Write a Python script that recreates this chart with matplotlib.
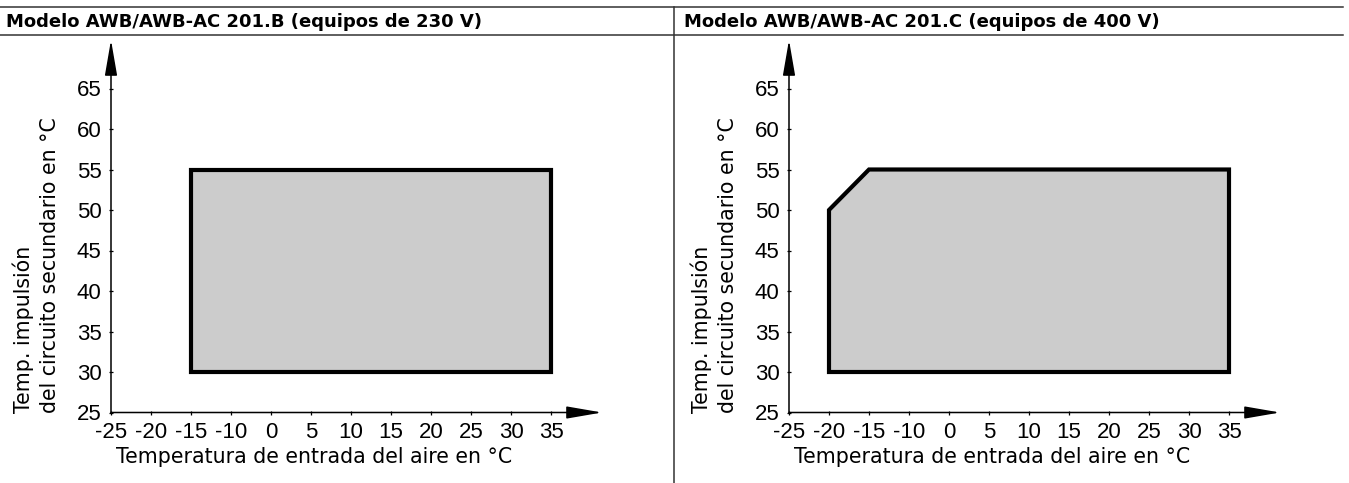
import numpy as np
import matplotlib.pyplot as plt
from matplotlib.patches import Polygon

# tick values as printed in the source chart (note: no -5 label)
x_tick_values = [-25, -20, -15, -10, 0, 5, 10, 15, 20, 25, 30, 35]
x_tick_labels = ['-25', '-20', '-15', '-10', '0', '5', '10', '15', '20', '25', '30', '35']
y_tick_values = [25, 30, 35, 40, 45, 50, 55, 60, 65]

# operating envelopes (air inlet temp, flow temp)
env_b_air = [-15, -15, 35, 35]
env_b_flow = [30, 55, 55, 30]
env_c_air = [-20, -20, -15, 35, 35]
env_c_flow = [30, 50, 55, 55, 30]

titles = ['Modelo AWB/AWB-AC 201.B (equipos de 230 V)',
          'Modelo AWB/AWB-AC 201.C (equipos de 400 V)']
xlabel = 'Temperatura de entrada del aire en °C'
ylabel = 'Temp. impulsión\ndel circuito secundario en °C'

W, H = 1349, 483
fig = plt.figure(figsize=(W / 100, H / 100), dpi=100)

LABEL_FONT = 'DejaVu Sans'
TICK_FONT = 'Liberation Sans'


def fx(px):
    return px / W


def fy(py):
    return 1 - py / H


# title bar
fig.add_artist(plt.Line2D([0, fx(1343)], [fy(7), fy(7)], color='#333333', lw=1.1))
fig.add_artist(plt.Line2D([0, fx(1343)], [fy(35), fy(35)], color='#333333', lw=1.1))
fig.add_artist(plt.Line2D([fx(674), fx(674)], [fy(7), 0], color='#333333', lw=1.1))

pos = np.arange(len(x_tick_values))


def to_pos(vals):
    return np.interp(vals, x_tick_values, pos)


def draw_panel(x0, title, air, flow):
    ox, oy = x0, 412.5
    tip_x, tip_y = x0 + 491, 40
    ax = fig.add_axes([fx(ox), fy(oy), (tip_x - ox) / W, (oy - tip_y) / H])
    ax.set_xlim(0, (tip_x - ox) / 40.0)
    ax.set_ylim(25, 25 + (oy - tip_y) / 40.5 * 5)
    for s in ax.spines.values():
        s.set_visible(False)
    ax.patch.set_alpha(0)

    ax.add_patch(Polygon(np.column_stack([to_pos(air), flow]), closed=True,
                         facecolor='#cccccc', edgecolor='black', lw=3.0,
                         joinstyle='miter'))

    arrow = dict(arrowstyle='-|>,head_length=2.2,head_width=0.38',
                 color='black', lw=1.1, shrinkA=0, shrinkB=0, mutation_scale=10)
    ax.annotate('', xy=(1, 0), xytext=(0, 0), xycoords='axes fraction',
                arrowprops=arrow, annotation_clip=False)
    ax.annotate('', xy=(0, 1), xytext=(0, 0), xycoords='axes fraction',
                arrowprops=arrow, annotation_clip=False)

    ax.set_xticks(pos)
    ax.set_xticklabels(x_tick_labels, fontfamily=TICK_FONT, fontsize=16)
    ax.set_xticks(pos[2:11:2], minor=True)
    ax.set_yticks(y_tick_values)
    ax.set_yticklabels([str(v) for v in y_tick_values], fontfamily=TICK_FONT, fontsize=16)
    ax.set_yticks(y_tick_values[2::2], minor=True)
    ax.tick_params(which='major', direction='inout', length=3.5, width=0.9, pad=5.0)
    ax.tick_params(which='minor', direction='inout', length=6.5, width=0.9)
    ax.tick_params(axis='y', which='major', pad=5.0)

    fig.text(fx(x0 - 105), fy(27), title, fontfamily=LABEL_FONT, fontweight='bold',
             fontsize=13, ha='left', va='baseline')
    fig.text(fx(x0 + 203), fy(463), xlabel, fontfamily=LABEL_FONT, fontsize=14.8,
             ha='center', va='baseline')
    fig.text(fx(x0 - 75), fy(413), ylabel, fontfamily=LABEL_FONT, fontsize=14.8,
             rotation=90, ha='center', va='bottom', multialignment='left',
             linespacing=1.4)
    return ax


draw_panel(111, titles[0], env_b_air, env_b_flow)
draw_panel(789, titles[1], env_c_air, env_c_flow)

fig.savefig('out.png', dpi=100)
